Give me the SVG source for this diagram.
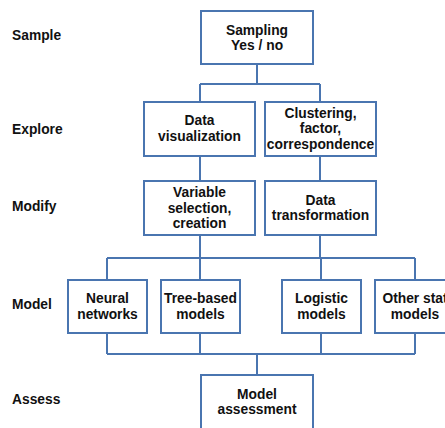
<svg xmlns="http://www.w3.org/2000/svg" width="445" height="428" viewBox="0 0 445 428">
<style>
.box{fill:#fff;stroke:#4a75b0;stroke-width:2}
.ln{fill:none;stroke:#4a75b0;stroke-width:2}
.t{font-family:"Liberation Sans",Arial,sans-serif;font-weight:bold;font-size:13.8px;fill:#111;text-anchor:middle}
.lab{font-family:"Liberation Sans",Arial,sans-serif;font-weight:bold;font-size:13.8px;fill:#111}
</style>
<rect width="445" height="428" fill="#fff"/>
<g id="labels">
<text class="lab" x="12" y="40">Sample</text>
<text class="lab" x="12" y="134">Explore</text>
<text class="lab" x="12" y="211">Modify</text>
<text class="lab" x="12" y="309">Model</text>
<text class="lab" x="12" y="404">Assess</text>
</g>
<g id="connectors">
<path class="ln" d="M257,64 V84 M200,84 H320 M200,84 V102 M320,84 V102"/>
<path class="ln" d="M200,156 V181 M320,156 V181"/>
<path class="ln" d="M200,235 V258 M320,235 V258 M107,258 H415 M107,258 V280 M200,258 V280 M321,258 V280 M415,258 V280"/>
<path class="ln" d="M107,333 V354 M200,333 V354 M321,333 V354 M415,333 V354 M107,354 H415 M257,354 V375"/>
</g>
<g id="sampling">
<rect class="box" x="201" y="11" width="112" height="53"/>
<text class="t" x="257" y="35">Sampling</text>
<text class="t" x="257" y="50">Yes / no</text>
</g>
<g id="datavis">
<rect class="box" x="144" y="102" width="111" height="54"/>
<text class="t" x="199.5" y="125">Data</text>
<text class="t" x="199.5" y="141">visualization</text>
</g>
<g id="clustering">
<rect class="box" x="265" y="102" width="111" height="54"/>
<text class="t" x="320.5" y="118">Clustering,</text>
<text class="t" x="320.5" y="133">factor,</text>
<text class="t" x="320.5" y="149">correspondence</text>
</g>
<g id="varsel">
<rect class="box" x="144" y="181" width="111" height="54"/>
<text class="t" x="199.5" y="197">Variable</text>
<text class="t" x="199.5" y="213">selection,</text>
<text class="t" x="199.5" y="228">creation</text>
</g>
<g id="datatrans">
<rect class="box" x="265" y="181" width="111" height="54"/>
<text class="t" x="320.5" y="205">Data</text>
<text class="t" x="320.5" y="220">transformation</text>
</g>
<g id="neural">
<rect class="box" x="68" y="280" width="79" height="53"/>
<text class="t" x="107.5" y="303">Neural</text>
<text class="t" x="107.5" y="319">networks</text>
</g>
<g id="tree">
<rect class="box" x="161" y="280" width="79" height="53"/>
<text class="t" x="200.5" y="303">Tree-based</text>
<text class="t" x="200.5" y="319">models</text>
</g>
<g id="logistic">
<rect class="box" x="282" y="280" width="79" height="53"/>
<text class="t" x="321.5" y="303">Logistic</text>
<text class="t" x="321.5" y="319">models</text>
</g>
<g id="otherstat">
<rect class="box" x="375" y="280" width="80" height="53"/>
<text class="t" x="415" y="303">Other stat</text>
<text class="t" x="415" y="319">models</text>
</g>
<g id="assessment">
<rect class="box" x="201" y="375" width="112" height="60"/>
<text class="t" x="257" y="399">Model</text>
<text class="t" x="257" y="414">assessment</text>
</g>
</svg>
